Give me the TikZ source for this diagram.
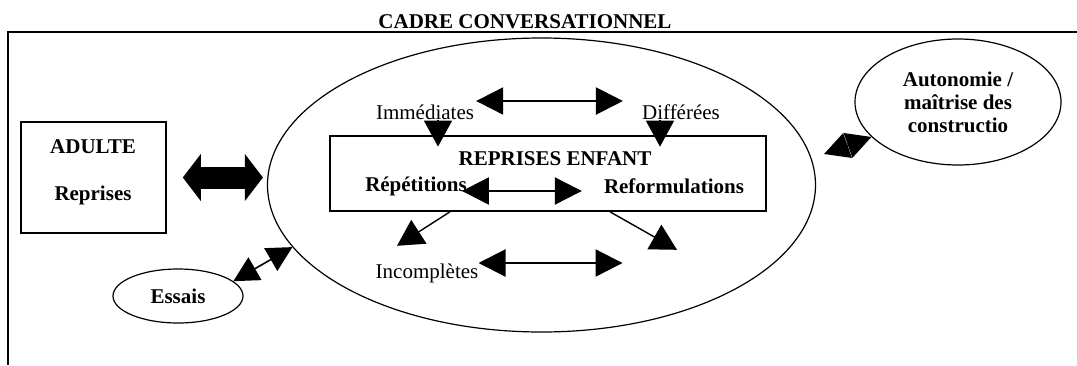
\documentclass[tikz,border=0pt]{standalone}
\usepackage{fontspec}
\setmainfont{Liberation Serif}
\usetikzlibrary{arrows.meta,shapes.geometric}

\begin{document}
\begin{tikzpicture}[x=1pt,y=-1pt,font=\fontsize{21}{23}\selectfont]
  \tikzstyle{every node}+=[inner sep=0pt]
  \tikzstyle{gras}=[font=\fontsize{21}{23}\selectfont\bfseries]
  \tikzstyle{fleche}=[line width=2.2pt,{Triangle[length=27pt,width=27pt]}-{Triangle[length=27pt,width=27pt]}]
  \tikzstyle{flechecourte}=[line width=1.6pt,{Triangle[length=25pt,width=26pt]}-{Triangle[length=25pt,width=26pt]}]
  \tikzstyle{pointe}=[line width=1.4pt,-{Triangle[length=26pt,width=28pt]}]
  \tikzstyle{grosse}=[line width=22pt,{Triangle[length=18pt,width=47pt,line width=0pt]}-{Triangle[length=18pt,width=47pt,line width=0pt]}]
  \useasboundingbox (0,0) rectangle (1077,365);
  % cadre
  \draw [line width=2pt] (8,365) -- (8,32) -- (1077,32);
  \node [gras] (titre) at (525,22) {CADRE CONVERSATIONNEL};
  % adulte
  \node [draw, line width=1.6pt, minimum width=145pt, minimum height=111pt] (adulte) at (93.5,177.5) {};
  \node [gras] (adulteNom) at (93,147) {ADULTE};
  \node [gras] (adulteRep) at (93,195) {Reprises};
  % ellipses
  \node [draw, ellipse, line width=1.2pt, minimum width=548pt, minimum height=294pt] (cadre) at (541.5,185) {};
  \node [draw, ellipse, line width=1.2pt, minimum width=206pt, minimum height=126pt, align=center, gras] (auto) at (958,102) {Autonomie /\\maîtrise des\\constructio};
  \node [draw, ellipse, line width=1.2pt, minimum width=130pt, minimum height=54pt, gras] (essais) at (178,296) {Essais};
  % reprises enfant
  \node [draw, line width=1.6pt, minimum width=436pt, minimum height=75pt] (enfant) at (548,173.5) {};
  \node [gras] (enfantNom) at (555,159) {REPRISES ENFANT};
  \node [gras] (rep) at (416,186) {Répétitions};
  \node [gras] (ref) at (674,186) {Reformulations};
  \node (imm) at (425,112) {Immédiates};
  \node (dif) at (681,112) {Différées};
  \node (inc) at (427,273) {Incomplètes};
  \coordinate (losange) at (824,154);
  % fleches
  \draw [grosse, shorten <=16pt, shorten >=4pt] (adulte.east) -- (adulte.east -| cadre.west);
  \draw [fleche, shorten <=2pt, shorten >=19pt] ([yshift=11pt]imm.east) -- ([yshift=11pt]dif.west);
  \draw [fleche, shorten <=-5pt, shorten >=22pt] ([yshift=-5pt]rep.east) -- ([yshift=-5pt]ref.west);
  \draw [fleche] ([yshift=10pt]inc.east) -- +(144,0);
  \draw [pointe] ([xshift=13pt]imm.south) -- +(0,27);
  \draw [pointe] ([xshift=-21pt]dif.south) -- +(0,27);
  \draw [pointe] ([xshift=-98pt]enfant.south) -- +(-53,34);
  \draw [pointe] ([xshift=62pt]enfant.south) -- +(67,38);
  \draw [flechecourte] (essais.15) -- (cadre.194);
  \draw [flechecourte] (losange) -- (auto.202);
\end{tikzpicture}
\end{document}
